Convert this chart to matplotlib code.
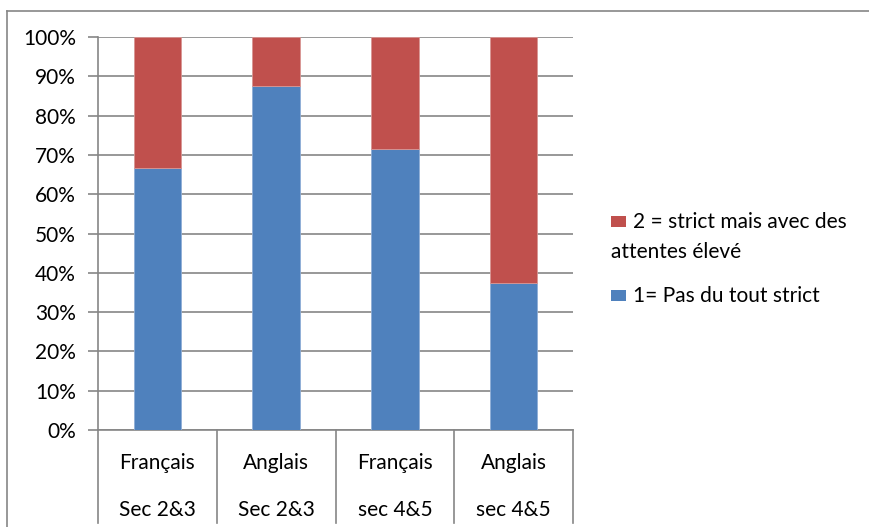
import matplotlib
matplotlib.use("Agg")
import matplotlib.pyplot as plt
from matplotlib.patches import Rectangle
from matplotlib.lines import Line2D
from matplotlib.transforms import blended_transform_factory
import numpy as np

plt.rcParams['font.family'] = ['Lato', 'DejaVu Sans']

# Data: share of answers per group (percent)
subjects = ["Français", "Anglais", "Français", "Anglais"]
levels = ["Sec 2&3", "Sec 2&3", "sec 4&5", "sec 4&5"]
pas_strict = [66.7, 87.5, 71.4, 37.5]
strict_attentes = [33.3, 12.5, 28.6, 62.5]
series_names = ["1= Pas du tout strict", "2 = strict mais avec des\nattentes élevé"]
yticks = [0, 10, 20, 30, 40, 50, 60, 70, 80, 90, 100]

BLUE = "#4F81BD"
RED = "#C0504D"
GRID = "#868686"
FS = 15

W, H = 870, 527
fig = plt.figure(figsize=(W / 100, H / 100), dpi=100)
ax = fig.add_axes([98 / W, 1 - 430 / H, (573 - 98) / W, (430 - 37) / H])

x = np.arange(len(subjects))
ax.bar(x, pas_strict, width=0.4, color=BLUE, edgecolor="#8FAED6", linewidth=0.6, zorder=3)
ax.bar(x, strict_attentes, width=0.4, bottom=pas_strict, color=RED,
       edgecolor="#D99694", linewidth=0.6, zorder=3)

ax.set_xlim(-0.5, len(subjects) - 0.5)
ax.set_ylim(0, 100)
ax.set_yticks(yticks)
ax.set_yticklabels([f"{v}%" for v in yticks], fontsize=FS, color="#000000")
ax.yaxis.grid(True, color=GRID, linewidth=1.2, zorder=0)
ax.tick_params(axis="y", length=7, width=1.2, color=GRID, pad=9)
ax.set_xticks([])
for side in ("top", "right"):
    ax.spines[side].set_visible(False)
for side in ("left", "bottom"):
    ax.spines[side].set_color(GRID)
    ax.spines[side].set_linewidth(1.2)

# Category table below the axis
trans = blended_transform_factory(ax.transData, ax.transAxes)
y_bottom = (430 - 523) / (430 - 37)
for b in np.arange(-0.5, len(subjects), 1.0):
    ax.add_line(Line2D([b, b], [0, y_bottom], transform=trans, color=GRID,
                       linewidth=1.2, clip_on=False))
y1 = (430 - 463) / (430 - 37)
y2 = (430 - 510) / (430 - 37)
for i, (s, l) in enumerate(zip(subjects, levels)):
    ax.text(i, y1, s, transform=trans, ha="center", va="center", fontsize=FS)
    ax.text(i, y2, l, transform=trans, ha="center", va="center", fontsize=FS)

# Legend
def fx(px):
    return px / W

def fy(py):
    return 1 - py / H

fig.add_artist(Rectangle((fx(611), fy(227)), fx(15), 11 / H, transform=fig.transFigure,
                         facecolor=RED, edgecolor="none"))
fig.add_artist(Rectangle((fx(611), fy(301)), fx(15), 11 / H, transform=fig.transFigure,
                         facecolor=BLUE, edgecolor="none"))
fig.text(fx(633), fy(222), series_names[1].split("\n")[0], ha="left", va="center", fontsize=FS)
fig.text(fx(611), fy(252), series_names[1].split("\n")[1], ha="left", va="center", fontsize=FS)
fig.text(fx(633), fy(296), series_names[0], ha="left", va="center", fontsize=FS)

# Chart frame
fig.add_artist(Line2D([fx(7), 1], [fy(11), fy(11)], transform=fig.transFigure,
                      color=GRID, linewidth=1.2))
fig.add_artist(Line2D([fx(7), fx(7)], [fy(11), 0], transform=fig.transFigure,
                      color=GRID, linewidth=1.2))

fig.savefig("out.png", dpi=100)
